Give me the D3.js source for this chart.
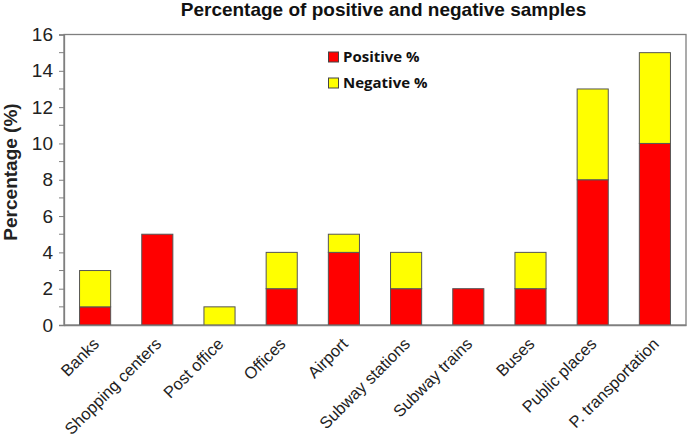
<!DOCTYPE html>
<html><head><meta charset="utf-8">
<script src="https://cdn.jsdelivr.net/npm/d3@7"></script>
<style>body{margin:0;background:#fff}</style>
</head><body>
<svg id="c" width="688" height="442"></svg>
<script>
const categories = ["Banks","Shopping centers","Post office","Offices","Airport","Subway stations","Subway trains","Buses","Public places","P. transportation"];
const positive = [1,5,0,2,4,2,2,2,8,10];
const negative = [2,0,1,2,1,2,0,2,5,5];
const yTicks = [0,2,4,6,8,10,12,14,16];
const seriesNames = ["Positive %","Negative %"];
const colors = ["#ff0000","#ffff00"];

const svg = d3.select("#c");
const m = {l:64, t:34.5, r:686, b:325};
const x = d3.scaleBand().domain(categories).range([m.l, m.r]).paddingInner(0.5).paddingOuter(0.25);
const y = d3.scaleLinear().domain([0,16]).range([m.b, m.t]);

// frame
svg.append("rect").attr("x",m.l).attr("y",m.t).attr("width",m.r-m.l).attr("height",m.b-m.t)
  .attr("fill","none").attr("stroke","#7f7f7f").attr("stroke-width",1.3);

const data = categories.map((c,i)=>({c, p:positive[i], n:negative[i]}));
const stack = d3.stack().keys(["p","n"])(data);
stack.forEach((s,k)=>{
  svg.append("g").selectAll("rect").data(s).join("rect")
    .attr("x",d=>x(d.data.c)).attr("width",x.bandwidth())
    .attr("y",d=>y(d[1])).attr("height",d=>y(d[0])-y(d[1]))
    .attr("fill",colors[k]).attr("stroke",d=>d[1]-d[0]>0?"#555":"none").attr("stroke-width",1);
});

// y axis
const ya = svg.append("g").attr("transform",`translate(${m.l},0)`)
  .call(d3.axisLeft(y).tickValues(yTicks).tickSize(5).tickPadding(6));
ya.select(".domain").attr("stroke","#7f7f7f").attr("stroke-width",1.3);
ya.selectAll(".tick line").attr("stroke","#7f7f7f");
ya.selectAll("text").attr("font-family","Liberation Sans, Arial").attr("font-size",19).attr("fill","#222");
const minor = d3.range(1,16,2);
svg.append("g").selectAll("line").data(minor).join("line")
  .attr("x1",m.l-5).attr("x2",m.l).attr("y1",d=>y(d)).attr("y2",d=>y(d)).attr("stroke","#7f7f7f");

// x axis
const xa = svg.append("g").attr("transform",`translate(0,${m.b})`)
  .call(d3.axisBottom(x).tickSize(0));
xa.select(".domain").attr("stroke","#7f7f7f").attr("stroke-width",1.3);
xa.selectAll("text").attr("font-family","Liberation Sans, Arial").attr("font-size",16.5).attr("fill","#222")
  .attr("text-anchor","end").attr("dy","0")
  .attr("transform","translate(5,20) rotate(-45)").attr("y",0).attr("x",0);

// title
svg.append("text").attr("x",383.5).attr("y",16).attr("text-anchor","middle")
  .attr("font-family","Liberation Sans, Arial").attr("font-weight","bold").attr("font-size",19)
  .attr("fill","#111").text("Percentage of positive and negative samples");

// y title
svg.append("text").attr("transform","translate(17,172) rotate(-90)").attr("text-anchor","middle")
  .attr("font-family","Liberation Sans, Arial").attr("font-weight","bold").attr("font-size",19)
  .attr("fill","#222").text("Percentage  (%)");

// legend
const lg = svg.append("g");
seriesNames.forEach((nm,i)=>{
  lg.append("rect").attr("x",328.5).attr("y",52+i*26).attr("width",10).attr("height",10)
    .attr("fill",colors[i]).attr("stroke","#444").attr("stroke-width",1);
  lg.append("text").attr("x",343).attr("y",61.5+i*26)
    .attr("font-family","Open Sans, Liberation Sans, Arial").attr("font-weight","bold").attr("font-size",15)
    .attr("fill","#111").text(nm);
});
</script>
</body></html>
